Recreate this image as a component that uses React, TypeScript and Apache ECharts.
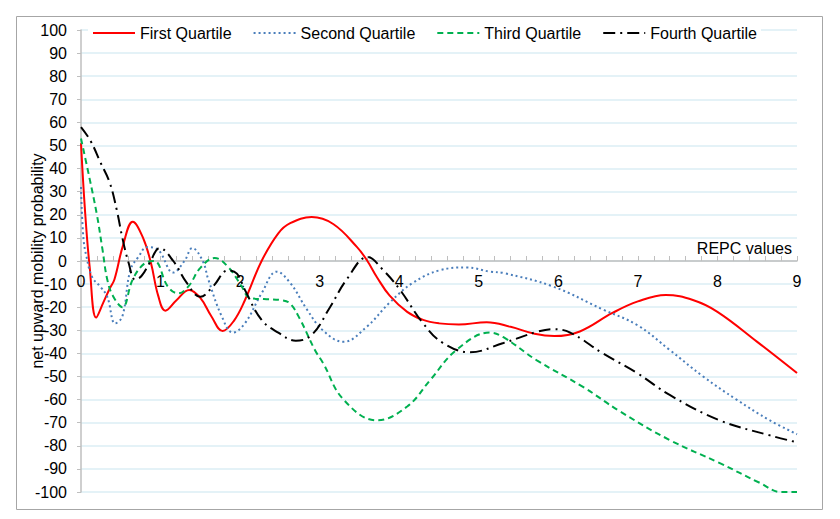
import React, { useEffect, useRef } from "react";
import * as echarts from "echarts";

const seriesNames = ["First Quartile", "Second Quartile", "Third Quartile", "Fourth Quartile"];

const firstQuartile: [number, number][] = [
  [0, 51], [0.05, 22], [0.11, -3], [0.19, -24.5], [0.28, -18], [0.36, -12], [0.42, -8], [0.53, 7],
  [0.65, 17], [0.78, 10], [0.88, -1], [0.97, -15], [1.06, -21.5], [1.2, -17], [1.36, -12.5], [1.5, -16],
  [1.64, -24], [1.78, -30.3], [1.92, -26], [2.06, -17], [2.27, 0], [2.48, 12], [2.63, 16.4], [2.9, 19],
  [3.17, 16], [3.47, 6], [3.6, 0], [3.72, -7], [3.88, -15], [4.1, -22], [4.3, -25.5], [4.5, -27],
  [4.75, -27.5], [5.1, -26.5], [5.4, -28.5], [5.7, -31.5], [5.95, -32.5], [6.27, -30.5], [6.68, -22.5],
  [7.0, -17.5], [7.35, -14.7], [7.7, -17], [8.0, -22], [8.5, -35], [9, -48.5],
];

const secondQuartile: [number, number][] = [
  [0, 32], [0.03, 10], [0.07, 1.7], [0.14, -7], [0.24, -11], [0.33, -15.5], [0.43, -27], [0.52, -24],
  [0.62, -4], [0.72, 1.7], [0.83, 6], [0.97, 4.8], [1.16, -5], [1.3, 0], [1.4, 5.6], [1.53, 0],
  [1.6, -8], [1.77, -24], [1.91, -31], [2.06, -27], [2.27, -14], [2.46, -4.6], [2.63, -9.5], [2.84, -21],
  [3.04, -30], [3.3, -35], [3.59, -28.5], [3.88, -18], [4.17, -9.5], [4.51, -4], [4.85, -2.8],
  [5.14, -4.6], [5.31, -5.2], [5.93, -11], [6.56, -21], [6.99, -27.7], [7.4, -38.5], [7.82, -50],
  [8.24, -60], [8.66, -69], [9, -75],
];

const thirdQuartile: [number, number][] = [
  [0, 53], [0.1, 37], [0.2, 20], [0.27, 5], [0.33, -8], [0.4, -15], [0.52, -20], [0.65, -8],
  [0.8, -1], [0.92, 0], [1.09, -11], [1.22, -14], [1.35, -11], [1.5, -3], [1.68, 1.3], [1.85, -2.6],
  [2.02, -11], [2.12, -16], [2.3, -16.5], [2.53, -17], [2.63, -18.5], [2.75, -25], [2.94, -38.5],
  [3.04, -44], [3.3, -60], [3.72, -69], [4.1, -63], [4.39, -51.5], [4.72, -38.5], [5.14, -31],
  [5.31, -33], [5.73, -43], [6.31, -54.5], [6.77, -65], [7.4, -77.5], [8.03, -87.5], [8.53, -96],
  [8.8, -100], [9, -100],
];

const fourthQuartile: [number, number][] = [
  [0, 58], [0.12, 52], [0.24, 43], [0.36, 34], [0.45, 22], [0.52, 10], [0.6, -1], [0.68, -8],
  [0.76, -6.5], [0.86, -1], [0.99, 5.6], [1.16, 0], [1.33, -9.5], [1.5, -15.5], [1.66, -11],
  [1.85, -4], [1.96, -5.5], [2.06, -12.5], [2.27, -25.5], [2.48, -31], [2.7, -34.5], [2.9, -32],
  [3.13, -20], [3.34, -8], [3.6, 1.7], [3.8, -4], [4.01, -12.5], [4.3, -27], [4.55, -35.5],
  [4.89, -39.5], [5.31, -35.5], [5.73, -30.7], [5.93, -29.5], [6.15, -31], [6.56, -40], [6.99, -48.5],
  [7.4, -58], [8.03, -69], [8.66, -75.5], [9, -78.5],
];

const FONT = '"Liberation Sans", Arial, sans-serif';

const GRID_TOP = 30;
const GRID_BOTTOM = 27;
const CHART_H = 519;

export default function App() {
  const ref = useRef<HTMLDivElement>(null);
  useEffect(() => {
    if (!ref.current) return;
    const chart = echarts.init(ref.current, undefined, { renderer: "svg" });
    const plotH = CHART_H - GRID_TOP - GRID_BOTTOM;
    const mk = (name: string, data: [number, number][], color: string, type: any) => ({
      name,
      type: "line",
      data,
      smooth: 0.4,
      symbol: "none",
      lineStyle: { color, width: 2, type, cap: "butt" },
      itemStyle: { color },
    });
    chart.setOption({
      animation: false,
      backgroundColor: "#ffffff",
      textStyle: { fontFamily: FONT },
      graphic: [
        {
          type: "rect",
          shape: { x: 16.5, y: 16.5, width: 806, height: 493 },
          style: { fill: "none", stroke: "#a6a6a6", lineWidth: 1 },
          z: -1,
        },
      ],
      legend: {
        left: 88,
        top: 24,
        itemWidth: 42,
        itemHeight: 14,
        itemGap: 21,
        padding: [1, 4],
        backgroundColor: "#ffffff",
        itemStyle: { opacity: 0 },
        textStyle: { fontFamily: FONT, fontSize: 16, color: "#000" },
        data: seriesNames,
      },
      grid: { left: 81, right: 43, top: GRID_TOP, bottom: GRID_BOTTOM, containLabel: false },
      xAxis: {
        type: "value",
        min: 0,
        max: 9,
        interval: 1,
        position: "bottom",
        offset: -plotH / 2,
        name: "REPC values",
        nameLocation: "end",
        nameGap: 0,
        nameTextStyle: {
          fontFamily: FONT,
          fontSize: 16,
          color: "#000",
          align: "right",
          verticalAlign: "bottom",
          padding: [0, 5, 5, 0],
        },
        axisLine: { onZero: false, lineStyle: { color: "#bfbfbf", width: 1.5 } },
        axisTick: { show: true, inside: true, length: 5, lineStyle: { color: "#bfbfbf" } },
        minorTick: { show: true, splitNumber: 5, length: 5, lineStyle: { color: "#bfbfbf" } },
        axisLabel: { fontFamily: FONT, fontSize: 16, color: "#000", margin: 12 },
        splitLine: { show: false },
      },
      yAxis: {
        type: "value",
        min: -100,
        max: 100,
        interval: 10,
        name: "net upward mobility probability",
        nameLocation: "middle",
        nameGap: 36,
        nameMoveOverlap: false,
        nameRotate: 90,
        nameTextStyle: { fontFamily: FONT, fontSize: 16, color: "#000" },
        axisLine: { show: true, lineStyle: { color: "#bfbfbf", width: 1.5 } },
        axisTick: { show: true, inside: false, length: 4, lineStyle: { color: "#bfbfbf" } },
        axisLabel: { fontFamily: FONT, fontSize: 16, color: "#000", margin: 14 },
        splitLine: { show: true, lineStyle: { color: "#dbeef4", width: 1.5 } },
      },
      series: [
        mk(seriesNames[0], firstQuartile, "#ff0000", "solid"),
        mk(seriesNames[1], secondQuartile, "#4a7ebb", [2, 3]),
        mk(seriesNames[2], thirdQuartile, "#00b050", [6, 4]),
        mk(seriesNames[3], fourthQuartile, "#000000", [12, 5, 2, 5]),
      ],
    });
    return () => chart.dispose();
  }, []);
  return (
    <div
      ref={ref}
      style={{ position: "fixed", left: 0, top: 0, width: 840, height: 519 }}
    />
  );
}
